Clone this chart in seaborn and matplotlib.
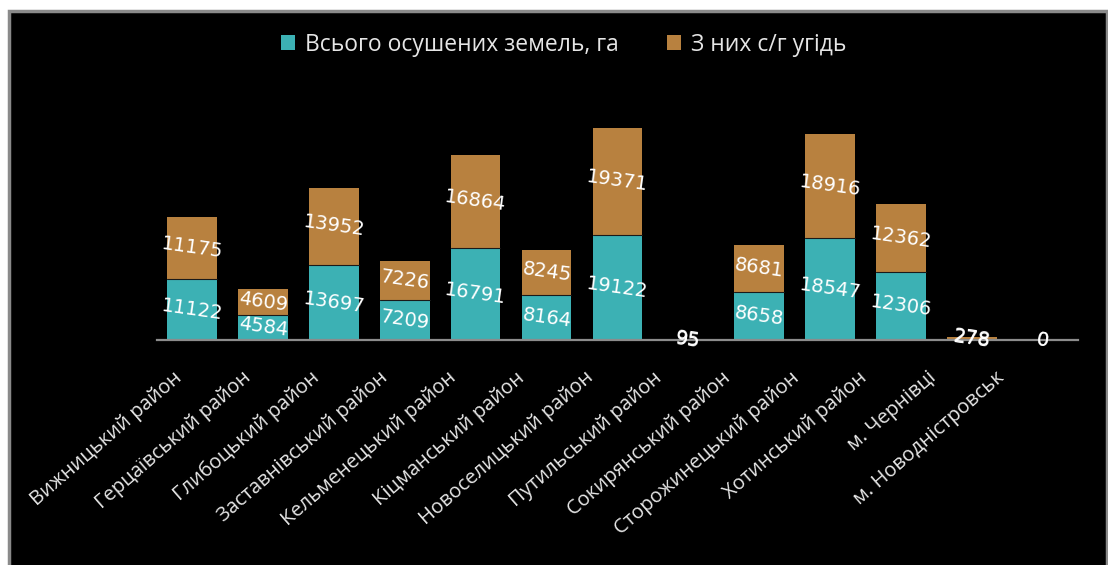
import matplotlib
matplotlib.use("Agg")
import matplotlib.pyplot as plt
import matplotlib.patches as mpatches
import seaborn as sns
import pandas as pd
import numpy as np

districts = [
    "Вижницький район", "Герцаївський район", "Глибоцький район",
    "Заставнівський район", "Кельменецький район", "Кіцманський район",
    "Новоселицький район", "Путильський район", "Сокирянський район",
    "Сторожинецький район", "Хотинський район", "м. Чернівці",
    "м. Новодністровськ",
]
drained_total = [11122, 4584, 13697, 7209, 16791, 8164, 19122, 95, 8658, 18547, 12306, 278, 0]
agricultural = [11175, 4609, 13952, 7226, 16864, 8245, 19371, 95, 8681, 18916, 12362, 278, 0]

series_names = ["Всього осушених земель, га", "З них с/г угідь"]
colors = ["#3cb1b4", "#b8813f"]

sns.set_theme(style="dark")
plt.rcParams["font.family"] = ["Open Sans", "DejaVu Sans"]

df = pd.DataFrame({
    "district": districts,
    "drained": drained_total,
    "agri": agricultural,
})
df["stack_top"] = df["drained"] + df["agri"]

fig = plt.figure(figsize=(11.08, 5.65), dpi=100)
fig.patch.set_facecolor("white")

# dark panel with grey frame
panel = mpatches.Rectangle((0.0085, -0.05), 0.9905, 1.03, transform=fig.transFigure,
                           facecolor="black", edgecolor="#8a8a8a", linewidth=2.5, zorder=-5)
fig.patches.append(panel)

ax = fig.add_axes([0.1415, 0.398, 0.8315, 0.439])
ax.set_facecolor("none")
ax.set_zorder(2)

# stacked bars: full stack in brown, lower part in teal over it
sns.barplot(data=df, x="district", y="stack_top", color=colors[1], saturation=1,
            width=0.70, ax=ax, edgecolor="none", linewidth=0)
sns.barplot(data=df, x="district", y="drained", color=colors[0], saturation=1,
            width=0.70, ax=ax, edgecolor="none", linewidth=0)

# thin dark seam between segments
for i, (d, a) in enumerate(zip(drained_total, agricultural)):
    if d > 500:
        ax.plot([i - 0.35, i + 0.35], [d, d], color="#1a1a1a", lw=0.8, zorder=3)

ax.set_ylim(0, 45000)
ax.set_xlim(-0.5, len(districts) - 0.5)
ax.set_xlabel("")
ax.set_ylabel("")
ax.set_yticks([])
ax.grid(False)
for side in ["top", "right", "left"]:
    ax.spines[side].set_visible(False)
ax.spines["bottom"].set_color("#8c8c8c")
ax.spines["bottom"].set_linewidth(1.6)

# category labels: slightly tighter spacing than the bars, ending just left of each bar
label_pos = [-0.27 + 0.967 * i for i in range(len(districts))]
ax.set_xticks(label_pos)
ax.set_xticklabels(districts, rotation=41, ha="right", rotation_mode="anchor",
                   color="#e6e6e6", fontsize=14.5)
ax.tick_params(axis="x", length=0, pad=20)

# value labels centred on each segment
for i, (d, a) in enumerate(zip(drained_total, agricultural)):
    ax.text(i, d / 2, f"{d}", ha="center", va="center", rotation=-8,
            color="white", fontsize=14, family="DejaVu Sans", zorder=5)
    ax.text(i, d + a / 2, f"{a}", ha="center", va="center", rotation=-8,
            color="white", fontsize=14, family="DejaVu Sans", zorder=5)

handles = [mpatches.Patch(facecolor=c, edgecolor="none") for c in colors]
leg = fig.legend(handles, series_names, loc="center", bbox_to_anchor=(0.509, 0.921),
                 ncol=2, frameon=False, fontsize=16.5, handlelength=0.6,
                 handleheight=0.6, handletextpad=0.45, columnspacing=2.1)
for t in leg.get_texts():
    t.set_color("#e6e6e6")

fig.savefig("out.png", dpi=100, facecolor=fig.get_facecolor())
